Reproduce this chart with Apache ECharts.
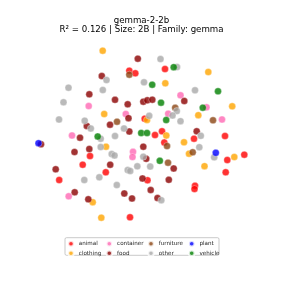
<!DOCTYPE html>
<html>
<head>
<meta charset="utf-8">
<script src="https://cdn.jsdelivr.net/npm/echarts@6/dist/echarts.min.js"></script>
<style>html,body{margin:0;padding:0;background:#fff}#c{width:283px;height:283px}</style>
</head>
<body>
<div id="c"></div>
<script>
// Category names
var categories = ['animal','clothing','container','food','furniture','other','plant','vehicle'];
// Embedding coordinates [x, y] (no axes shown)
var animal = [[165,69],[129.3,70.7],[135.3,73.3],[144.7,118.7],[155,135],[162,131.3],[225,136],[164.3,142.5],[194,138.7],[227.3,160],[244.3,154.7],[225.7,172.3],[195,185.7],[194.5,189],[90,156],[82.7,164.7],[59.2,180],[105.8,172.3],[147.5,180.3],[130,217.3]];
var clothing = [[102.7,50.7],[208.3,72],[165.3,83.3],[104.2,114],[147,120],[198.3,115.2],[232.2,106.3],[166.3,135.5],[184,142.3],[106,146.7],[189,153.7],[234.3,157],[204.5,166.2],[92.7,202.2],[101.3,217.7]];
var container = [[88.7,106],[72,135.5],[125.8,114],[168.2,113.7],[180.5,95.3],[206.5,107.3],[222,119.5],[133,151.8],[132.5,157],[68.7,196.3]];
var food = [[137.8,58.7],[101.8,76],[89.3,94.3],[115,99.8],[127.7,104.3],[143.3,101.7],[147.3,100.3],[152.3,99.7],[184.3,101],[128.5,118.2],[110,124.7],[86.8,126],[129.3,131.5],[196.7,131.3],[80,137.7],[41,144.3],[74.5,152],[89.3,149],[55.7,169.3],[143.3,146.7],[146.2,158.8],[110.2,164.7],[173.7,168.5],[142.5,178.5],[168.8,179.8],[150.7,190],[124.3,193.5],[132,198.5],[157.5,198],[74.7,192.3],[88.3,199.3]];
var furniture = [[129.3,74.7],[175.2,107.8],[117,121.7],[213,120.3],[167,146],[168,162.7],[192.7,152.3]];
var other = [[160.5,59],[177,67],[106.5,80],[68.5,87.7],[102.8,90],[144,82.3],[195,90.3],[63.5,102.3],[59,119.5],[84.7,120.7],[90.8,128.5],[176.8,111],[172.5,115.5],[149.2,115.8],[180.5,121.2],[124,128.5],[200.8,135.8],[100.7,138.7],[115,136],[100.7,147],[111.7,154],[114.5,155.5],[143.3,156.7],[137.3,166.3],[127.7,170],[130.2,171],[150.2,166.5],[199.3,147.2],[214.2,157.3],[84.3,180],[99.3,177.3],[116.8,185],[161.3,200.2]];
var plant = [[38.5,143.2],[215.8,152.8]];
var vehicle = [[173.7,67.2],[152.2,84.7],[161,102.7],[166.2,120],[218,91.3],[202.8,107.7],[141.2,133],[147,133],[97.7,136.5],[159.8,160.8]];
var titleText = 'gemma-2-2b';
var subtitleText = 'R\u00b2 = 0.126 | Size: 2B | Family: gemma';

var seriesData = [animal, clothing, container, food, furniture, other, plant, vehicle];
var colors = ['#ff0000','#ffa500','#ff69b4','#8b0000','#8b4513','#a9a9a9','#0000ff','#008000'];

var chart = echarts.init(document.getElementById('c'), null, {renderer:'canvas'});
var font = 'DejaVu Sans';
var series = categories.map(function(name, i){
  return {
    name: name, type: 'scatter', data: seriesData[i], symbolSize: 7,
    itemStyle: {color: colors[i], opacity: 0.8, borderColor: '#fff', borderWidth: 0.4}
  };
});
var legendCols = [['animal','clothing'],['container','food'],['furniture','other'],['plant','vehicle']];
var legendLeft = [67.2, 105.5, 147.2, 187.9];
var legends = legendCols.map(function(d, i){
  return {
    data: d, orient: 'vertical', left: legendLeft[i], top: 239.9, padding: 0,
    icon: 'circle', itemWidth: 5.6, itemHeight: 5.6, itemGap: 2, itemTextGap: 4.3,
    selectedMode: false,
    textStyle: {fontFamily: font, fontSize: 5.6, color: '#222', lineHeight: 5.6}
  };
});
chart.setOption({
  animation: false,
  title: [
    {text: titleText, left: 'center', top: 16.5, padding: 0,
     textStyle: {fontFamily: font, fontSize: 8.65, fontWeight: 'normal', color: '#000', lineHeight: 9}},
    {text: subtitleText, left: 'center', top: 25.5, padding: 0,
     textStyle: {fontFamily: font, fontSize: 8.65, fontWeight: 'normal', color: '#000', lineHeight: 9}}
  ],
  grid: {left: 0, right: 0, top: 0, bottom: 0},
  xAxis: {type: 'value', min: 0, max: 283, show: false},
  yAxis: {type: 'value', min: 0, max: 283, inverse: true, show: false},
  legend: legends,
  graphic: [{type: 'rect', shape: {x: 65, y: 237.7, width: 154, height: 17.6, r: 1.5},
    style: {fill: 'rgba(255,255,255,0.8)', stroke: '#bbb', lineWidth: 0.8}, z: -1}],
  series: series
});
</script>
</body>
</html>
